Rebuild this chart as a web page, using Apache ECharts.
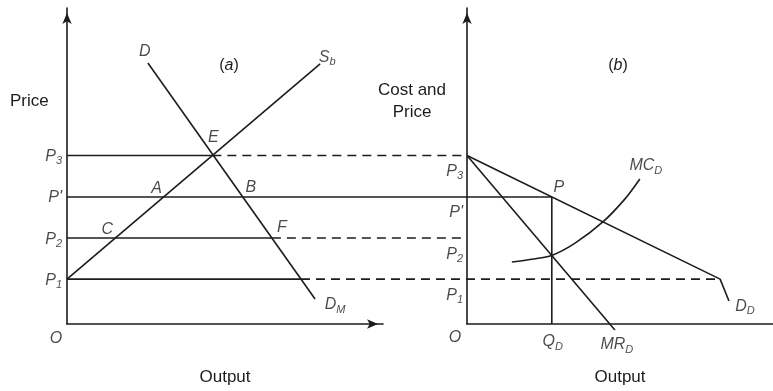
<!DOCTYPE html>
<html>
<head>
<meta charset="utf-8">
<title>Dominant firm price leadership</title>
<script src="https://cdn.jsdelivr.net/npm/echarts@6/dist/echarts.min.js"></script>
<style>
  html, body { margin: 0; padding: 0; background: #ffffff; }
  #chart { width: 773px; height: 391px; }
</style>
</head>
<body>
<div id="chart"></div>
<script>
// Price levels on the vertical axes (model units on a 0–100 scale)
const priceTicks = ['P1', 'P2', "P'", 'P3'];
const priceValues = [14.2, 27.2, 40.2, 53.3];
const [P1, P2, PP, P3] = priceValues;

// Panel (a): market demand D–D_M and supply of the small firms S_b
const marketDemand = [[25.6, 82.6], [78.5, 7.9]];
const fringeSupply = [[0, P1], [80.1, 82.3]];

// Panel (b): dominant firm's demand (kinked at P1), marginal revenue, marginal cost
const dominantDemand = [[0, P3], [80.1, P1], [82.9, 7.3]];
const dominantMR = [[0, P3], [46.8, -1.9]];
const dominantMC = [[14.2, 19.6], [20.5, 20.5], [26.8, 21.7], [34.2, 25.6],
                    [43.0, 32.3], [50.0, 39.6], [54.7, 45.9]];

// x where the straight segment a→b reaches height y
function xOnLine(a, b, y) {
  return a[0] + (y - a[1]) * (b[0] - a[0]) / (b[1] - a[1]);
}
const xE = xOnLine(fringeSupply[0], fringeSupply[1], P3);
const xA = xOnLine(fringeSupply[0], fringeSupply[1], PP);
const xC = xOnLine(fringeSupply[0], fringeSupply[1], P2);
const xB = xOnLine(marketDemand[0], marketDemand[1], PP);
const xF = xOnLine(marketDemand[0], marketDemand[1], P2);
const xG = xOnLine(marketDemand[0], marketDemand[1], P1);
const qD = xOnLine(dominantDemand[0], dominantDemand[1], PP);

// Layout: both panels share one unit size; a third, axis-less grid spanning
// both carries the price lines that run from panel (a) into panel (b)
const FONT = '"Liberation Sans", Arial, Helvetica, sans-serif';
const INK = '#1c1c1c';
const GRID_A = { left: 67, top: 8, width: 316, height: 316 };
const GRID_B = { left: 467, top: 8, width: 306, height: 316 };
const GRID_X = { left: 67, top: 8, width: 706, height: 316 };
const UNIT = GRID_A.width / 100;
const B_XMAX = GRID_B.width / UNIT;
const X_XMAX = GRID_X.width / UNIT;
const B_ORIGIN = (GRID_B.left - GRID_A.left) / UNIT; // panel (b) origin in panel (a) units

const RICH = {
  i: { fontFamily: FONT, fontStyle: 'italic', fontSize: 16, color: INK, lineHeight: 20 },
  s: { fontFamily: FONT, fontStyle: 'italic', fontSize: 11, color: INK, verticalAlign: 'bottom' },
  n: { fontFamily: FONT, fontSize: 16, color: INK, lineHeight: 20 }
};
const sub = (m, s) => `{i|${m}}{s|${s}}`;
const it = (m) => `{i|${m}}`;
const tickText = { 'P1': sub('P', '1'), 'P2': sub('P', '2'), "P'": it("P'"), 'P3': sub('P', '3') };

function seg(grid, data, dashed, extra) {
  return Object.assign({
    type: 'line', xAxisIndex: grid, yAxisIndex: grid, data: data,
    symbol: 'none', showSymbol: false, clip: false, silent: true, z: 3,
    lineStyle: { color: INK, width: 1.6, type: dashed ? [9, 6] : 'solid' }
  }, extra || {});
}

function labels(grid, items) {
  return {
    type: 'scatter', xAxisIndex: grid, yAxisIndex: grid, symbolSize: 0,
    clip: false, silent: true, z: 5,
    data: items.map(d => ({
      value: d.at,
      label: {
        show: true, position: d.pos || 'inside', distance: d.dist == null ? 5 : d.dist,
        offset: d.off || [0, 0], formatter: d.text, rich: RICH, color: INK
      }
    }))
  };
}

const hiddenBits = { axisTick: { show: false }, axisLabel: { show: false }, splitLine: { show: false } };
function axisX(grid, max, arrow) {
  return Object.assign({
    gridIndex: grid, type: 'value', min: 0, max: max,
    name: 'Output', nameLocation: 'middle', nameGap: 45,
    nameTextStyle: { fontFamily: FONT, fontSize: 17, color: INK },
    axisLine: {
      show: true, onZero: false,
      symbol: arrow ? ['none', 'arrow'] : 'none', symbolSize: [7, 11], symbolOffset: [0, -5],
      lineStyle: { color: INK, width: 1.6 }
    }
  }, hiddenBits);
}
function axisY(grid) {
  return Object.assign({
    gridIndex: grid, type: 'value', min: 0, max: 100,
    axisLine: {
      show: true, onZero: false, symbol: ['none', 'arrow'], symbolSize: [7, 11], symbolOffset: [0, -5],
      lineStyle: { color: INK, width: 1.6 }
    }
  }, hiddenBits);
}

const leftTicks = priceTicks.map((t, k) => ({ at: [0, priceValues[k]], text: tickText[t], pos: 'left', dist: 5, off: [0, 1] }));
const rightTicks = priceTicks.map((t, k) => ({ at: [0, priceValues[k]], text: tickText[t], pos: 'left', dist: 4, off: [0, 16] }));

const option = {
  backgroundColor: '#ffffff',
  animation: false,
  grid: [
    Object.assign({ containLabel: false }, GRID_A),
    Object.assign({ containLabel: false }, GRID_B),
    Object.assign({ containLabel: false }, GRID_X)
  ],
  xAxis: [
    axisX(0, 100, true),
    axisX(1, B_XMAX, false),
    Object.assign({ gridIndex: 2, type: 'value', min: 0, max: X_XMAX, show: false }, hiddenBits)
  ],
  yAxis: [
    axisY(0),
    axisY(1),
    Object.assign({ gridIndex: 2, type: 'value', min: 0, max: 100, show: false }, hiddenBits)
  ],
  graphic: [
    { type: 'text', silent: true, style: { x: 10, y: 101, text: 'Price', font: '17px ' + FONT, fill: INK,
      align: 'left', verticalAlign: 'middle', textAlign: 'left', textVerticalAlign: 'middle' } },
    { type: 'text', silent: true, style: { x: 412, y: 101, text: 'Cost and\nPrice', font: '17px ' + FONT, fill: INK,
      lineHeight: 22, align: 'center', verticalAlign: 'middle', textAlign: 'center', textVerticalAlign: 'middle' } },
    { type: 'text', silent: true, style: { x: 229, y: 66, text: '{n|(}{i|a}{n|)}', rich: RICH, fill: INK,
      align: 'center', verticalAlign: 'middle', textAlign: 'center', textVerticalAlign: 'middle' } },
    { type: 'text', silent: true, style: { x: 618, y: 66, text: '{n|(}{i|b}{n|)}', rich: RICH, fill: INK,
      align: 'center', verticalAlign: 'middle', textAlign: 'center', textVerticalAlign: 'middle' } }
  ],
  series: [
    // panel (a)
    seg(0, fringeSupply),
    seg(0, marketDemand),
    // price lines spanning both panels
    seg(2, [[0, P3], [xE, P3]]),
    seg(2, [[xE, P3], [B_ORIGIN, P3]], true),
    seg(2, [[0, PP], [B_ORIGIN + qD, PP]]),
    seg(2, [[0, P2], [xF, P2]]),
    seg(2, [[xF, P2], [B_ORIGIN, P2]], true),
    seg(2, [[0, P1], [xG, P1]]),
    seg(2, [[xG, P1], [B_ORIGIN + dominantDemand[1][0], P1]], true),
    // panel (b)
    seg(1, dominantDemand),
    seg(1, dominantMR),
    seg(1, [[qD, PP], [qD, 0]]),
    seg(1, dominantMC, false, { smooth: 0.3 }),
    labels(0, leftTicks.concat([
      { at: [0, 0], text: it('O'), off: [-11, 15] },
      { at: marketDemand[0], text: it('D'), off: [-3, -11] },
      { at: fringeSupply[1], text: sub('S', 'b'), off: [7, -6] },
      { at: [xE, P3], text: it('E'), off: [1, -18] },
      { at: [xA, PP], text: it('A'), off: [-7, -8] },
      { at: [xB, PP], text: it('B'), off: [8, -9] },
      { at: [xC, P2], text: it('C'), off: [-8, -9] },
      { at: [xF, P2], text: it('F'), off: [10, -11] },
      { at: marketDemand[1], text: sub('D', 'M'), off: [20, 6] }
    ])),
    labels(1, rightTicks.concat([
      { at: [0, 0], text: it('O'), off: [-12, 14] },
      { at: [qD, 0], text: sub('Q', 'D'), off: [1, 18] },
      { at: dominantMR[1], text: sub('MR', 'D'), off: [2, 15] },
      { at: dominantDemand[2], text: sub('D', 'D'), off: [16, 6] },
      { at: [qD, PP], text: it('P'), off: [7, -9] },
      { at: dominantMC[dominantMC.length - 1], text: sub('MC', 'D'), off: [6, -13] }
    ]))
  ]
};

const chart = echarts.init(document.getElementById('chart'), null, { renderer: 'canvas' });
chart.setOption(option);
</script>
</body>
</html>
